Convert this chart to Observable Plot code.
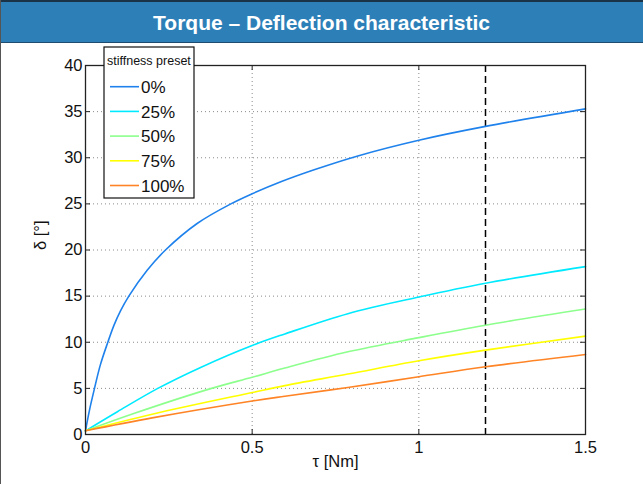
<!DOCTYPE html>
<html><head><meta charset="utf-8">
<script src="https://cdn.jsdelivr.net/npm/d3@7"></script>
<script src="https://cdn.jsdelivr.net/npm/@observablehq/plot@0.6"></script>
<style>
body{margin:0;background:#fff;}
#wrap{position:relative;width:643px;height:484px;overflow:hidden;background:#fff;font-family:"Liberation Sans",Arial,sans-serif;}
#title{box-sizing:border-box;height:43px;background:#2d7fb8;border-top:2px solid #1b3347;border-bottom:1px solid #1d4c70;color:#fff;font-weight:bold;font-size:21px;text-align:center;line-height:41px;}
#edge{position:absolute;left:0;top:0;width:1px;height:484px;background:#555;}
#chart svg{display:block;}
</style></head><body>
<div id="wrap"><div id="title"></div><div id="chart"></div><div id="edge"></div></div>
<script>
const titleText = "Torque – Deflection characteristic";
const xLabel = "τ [Nm]";
const yLabel = "δ [°]";
const legendTitle = "stiffness preset";
const presets = ["0%", "25%", "50%", "75%", "100%"];
const colors = ["#1f82ec", "#00eaff", "#8cff8c", "#ffff00", "#ff8426"];
const xTicks = [0, 0.5, 1, 1.5];
const yTicks = [0, 5, 10, 15, 20, 25, 30, 35, 40];
const markerTau = 1.2;

const tau0   = [0, 0.012, 0.027, 0.045, 0.067, 0.085, 0.105, 0.13, 0.185, 0.24, 0.336, 0.436, 0.5, 0.586, 0.686, 0.817, 1.0, 1.2, 1.5];
const delta0 = [0.4, 2.65, 5.0, 7.6, 10.0, 11.8, 13.4, 15.0, 17.8, 20.0, 22.9, 25.0, 26.1, 27.4, 28.7, 30.2, 31.9, 33.4, 35.3];
const tau25   = [0, 0.097, 0.217, 0.347, 0.5, 0.598, 0.787, 1.0, 1.2, 1.5];
const delta25 = [0.4, 2.5, 5.0, 7.3, 9.65, 10.9, 13.1, 14.9, 16.4, 18.2];
const tau50   = [0, 0.147, 0.378, 0.5, 0.598, 0.787, 1.0, 1.2, 1.5];
const delta50 = [0.4, 2.3, 5.0, 6.2, 7.2, 8.96, 10.5, 11.85, 13.6];
const tau75   = [0, 0.2, 0.5, 0.598, 0.787, 1.0, 1.2, 1.5];
const delta75 = [0.4, 2.2, 4.55, 5.3, 6.55, 8.0, 9.15, 10.66];
const tau100   = [0, 0.2, 0.5, 0.598, 0.787, 1.0, 1.2, 1.5];
const delta100 = [0.4, 1.8, 3.63, 4.15, 5.1, 6.26, 7.34, 8.68];

document.getElementById("title").textContent = titleText;

const seriesTau = [tau0, tau25, tau50, tau75, tau100];
const seriesDelta = [delta0, delta25, delta50, delta75, delta100];
const rows = [];
presets.forEach((p, i) => seriesTau[i].forEach((t, j) => rows.push({preset: p, tau: t, delta: seriesDelta[i][j]})));

const W = 643, H = 441, mL = 85, mR = 58, mT = 22, mB = 50;
const innerW = W - mL - mR, innerH = H - mT - mB, tl = 5;
const gridStyle = {stroke: "#8a8a8a", strokeOpacity: 1, strokeDasharray: "1,3"};

const plot = Plot.plot({
  width: W, height: H,
  marginLeft: mL, marginRight: mR, marginTop: mT, marginBottom: mB,
  x: {domain: [0, 1.5]},
  y: {domain: [0, 40]},
  color: {domain: presets, range: colors},
  style: {fontFamily: "'Liberation Sans', Arial, sans-serif", fontSize: "16.5px", color: "#111", background: "#fff", overflow: "visible"},
  marks: [
    Plot.gridX(xTicks, gridStyle),
    Plot.gridY(yTicks, gridStyle),
    Plot.ruleX([markerTau], {stroke: "#000", strokeWidth: 1.5, strokeDasharray: "7,4"}),
    Plot.line(rows, {x: "tau", y: "delta", z: "preset", stroke: "preset", strokeWidth: 1.6, curve: "catmull-rom"}),
    Plot.tickX(xTicks, {x: d => d, stroke: "#222", insetTop: innerH - tl}),
    Plot.tickX(xTicks, {x: d => d, stroke: "#222", insetBottom: innerH - tl}),
    Plot.tickY(yTicks, {y: d => d, stroke: "#222", insetRight: innerW - tl}),
    Plot.tickY(yTicks, {y: d => d, stroke: "#222", insetLeft: innerW - tl}),
    Plot.frame({stroke: "#222", strokeWidth: 1.3}),
    Plot.axisX(xTicks, {tickSize: 0, tickPadding: 7, fontSize: 16.5, tickFormat: d => String(d), label: null}),
    Plot.axisY(yTicks, {tickSize: 0, tickPadding: 3, fontSize: 16.5, tickFormat: d => String(d), label: null}),
    Plot.text([xLabel], {frameAnchor: "bottom", dy: 32, fontSize: 16.5}),
    Plot.text([yLabel], {frameAnchor: "left", rotate: -90, dx: -45, fontSize: 16.5})
  ]
});
document.getElementById("chart").appendChild(plot);

// legend
const svg = d3.select(plot);
const lg = svg.append("g").attr("font-family", "'Liberation Sans', Arial, sans-serif").attr("text-anchor", "start");
const lx = 104, ly = 4, lw = 90, lh = 151;
lg.append("rect").attr("x", lx).attr("y", ly).attr("width", lw).attr("height", lh)
  .attr("fill", "#fff").attr("stroke", "#111").attr("stroke-width", 1.2);
lg.append("text").attr("x", lx + 3).attr("y", ly + 17.5).attr("font-size", 12.5).attr("fill", "#111").text(legendTitle);
presets.forEach((p, i) => {
  const cy = ly + 39.7 + i * 24.7;
  lg.append("line").attr("x1", lx + 6).attr("x2", lx + 35).attr("y1", cy).attr("y2", cy)
    .attr("stroke", colors[i]).attr("stroke-width", 1.6);
  lg.append("text").attr("x", lx + 37).attr("y", cy).attr("dy", "0.36em").attr("font-size", 17).attr("fill", "#111").text(p);
});
</script>
</body></html>
